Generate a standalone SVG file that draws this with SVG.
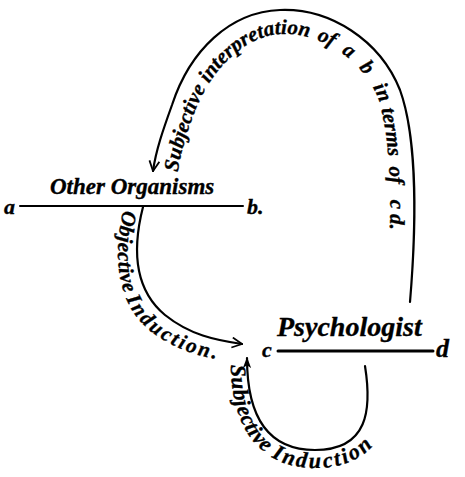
<svg xmlns="http://www.w3.org/2000/svg" width="465" height="477" viewBox="0 0 465 477">
<style>
.lbl{font-family:"Liberation Serif","DejaVu Serif",serif;font-style:italic;font-weight:bold;fill:#000;stroke:#000;stroke-width:0.35}
.ln{stroke:#000;fill:none;stroke-linecap:round}
.cv{stroke:#000;fill:none;stroke-width:2.2;stroke-linecap:round}
.guide{fill:none;stroke:none}
</style>
<defs>
<marker id="open" viewBox="0 0 12 12" refX="11" refY="6" markerWidth="12" markerHeight="12" markerUnits="userSpaceOnUse" orient="auto">
<path d="M1,1 L11,6 L1,11" fill="none" stroke="#000" stroke-width="1.8"/>
</marker>
<marker id="solid" viewBox="0 0 12 12" refX="11" refY="6" markerWidth="11" markerHeight="11" markerUnits="userSpaceOnUse" orient="auto">
<path d="M0,1.5 L12,6 L0,10.5 L3,6 Z" fill="#000"/>
</marker>
<path id="tpArc" class="guide" d="M178,172 C180,155 186,135 194,114 C210,70 245,35 282,34 C320,33 362,58 378,98 C392,140 392,220 388,260"/>
<path id="tpObj" class="guide" d="M124,208 C112,255 116,305 152,332 C178,352 205,358 236,362"/>
<path id="tpSub" class="guide" d="M231,362 C230,430 262,468 315,468 C352,468 375,452 390,420"/>
</defs>

<g id="connectors">
<path id="arc-interpretation" class="cv" d="M410,302 C416,230 418,140 400,90 C380,40 330,8 280,10 C230,12 190,50 172,105 C163,130 156,150 153,171" marker-end="url(#open)"/>
<path id="arc-objective" class="cv" d="M143,207 C132,250 135,290 165,315 C190,335 215,340 242,344" marker-end="url(#open)"/>
<path id="arc-subjective" class="cv" d="M365,366 C372,410 368,450 315,450 C270,450 247,420 247,358" marker-end="url(#solid)"/>
</g>

<g id="node-other-organisms">
<line class="ln" x1="20" y1="206" x2="243" y2="206" stroke-width="2"/>
<text class="lbl" x="50" y="194" font-size="23">Other Organisms</text>
<text class="lbl" x="4" y="214" font-size="22">a</text>
<text class="lbl" x="247" y="214" font-size="22">b.</text>
</g>

<g id="node-psychologist">
<line class="ln" x1="278" y1="351" x2="433" y2="351" stroke-width="3"/>
<text class="lbl" x="277" y="336" font-size="28">Psychologist</text>
<text class="lbl" x="262" y="357" font-size="22">c</text>
<text class="lbl" x="436" y="357" font-size="26">d</text>
</g>

<g id="labels">
<text class="lbl" font-size="21"><textPath href="#tpArc" startOffset="0">Subjective interpretation</textPath></text>
<text class="lbl" font-size="21"><textPath href="#tpArc" startOffset="221">of</textPath></text>
<text class="lbl" font-size="21"><textPath href="#tpArc" startOffset="249">a</textPath></text>
<text class="lbl" font-size="21"><textPath href="#tpArc" startOffset="272">b</textPath></text>
<text class="lbl" font-size="21"><textPath href="#tpArc" startOffset="296">in</textPath></text>
<text class="lbl" font-size="21"><textPath href="#tpArc" startOffset="320">terms</textPath></text>
<text class="lbl" font-size="21"><textPath href="#tpArc" startOffset="378">of</textPath></text>
<text class="lbl" font-size="21"><textPath href="#tpArc" startOffset="411">c</textPath></text>
<text class="lbl" font-size="21"><textPath href="#tpArc" startOffset="425">d.</textPath></text>
<text class="lbl" font-size="21"><textPath href="#tpObj" startOffset="2" letter-spacing="0.5">Objective</textPath></text>
<text class="lbl" font-size="21"><textPath href="#tpObj" startOffset="92" letter-spacing="2.5">Induction.</textPath></text>
<text class="lbl" font-size="22"><textPath href="#tpSub" startOffset="3" letter-spacing="0.5">Subjective</textPath></text>
<text class="lbl" font-size="22"><textPath href="#tpSub" startOffset="108" letter-spacing="2.5">Induction</textPath></text>
</g>
</svg>
